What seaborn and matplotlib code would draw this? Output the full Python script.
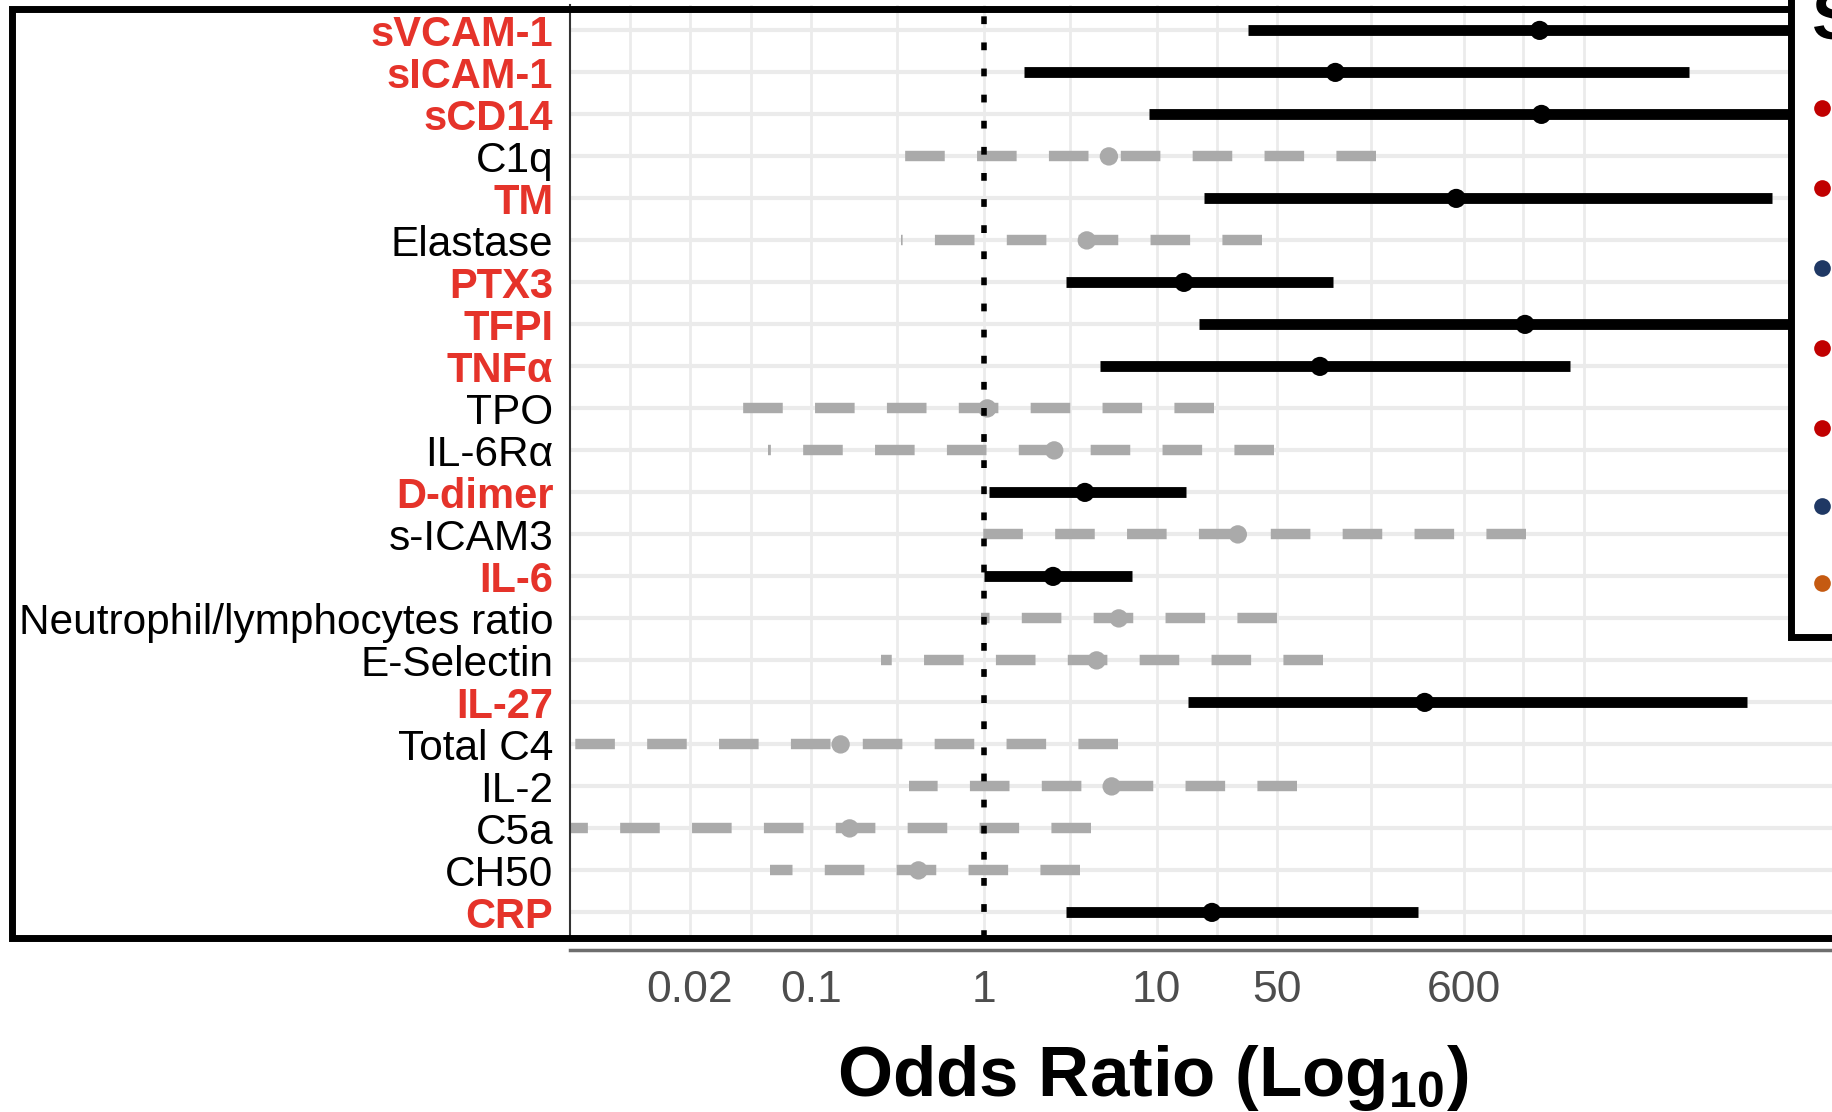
import numpy as np
import pandas as pd
import matplotlib
matplotlib.use("Agg")
import matplotlib.pyplot as plt
import seaborn as sns
from matplotlib.lines import Line2D
from matplotlib.patches import Rectangle
from matplotlib.ticker import NullLocator, FixedLocator

# ---------------- data ----------------
markers = ["sVCAM-1", "sICAM-1", "sCD14", "C1q", "TM", "Elastase", "PTX3", "TFPI",
           "TNFα", "TPO", "IL-6Rα", "D-dimer", "s-ICAM3", "IL-6",
           "Neutrophil/lymphocytes ratio", "E-Selectin", "IL-27", "Total C4",
           "IL-2", "C5a", "CH50", "CRP"]
odds_ratio = [1640, 108, 1680, 5.3, 540, 3.95, 14.4, 1350, 88, 1.05, 2.56, 3.85,
              29.5, 2.52, 6.05, 4.5, 355, 0.149, 5.5, 0.168, 0.42, 20.9]
ci_low = [34, 1.72, 9.1, 0.235, 18.7, 0.335, 2.98, 17.7, 4.7, 0.0375, 0.057, 1.07,
          0.75, 1.0, 0.96, 0.255, 15.2, 0.002, 0.372, 0.002, 0.058, 2.98]
ci_high = [80000, 12000, 300000, 185, 36000, 40.6, 105, 100000, 2450, 21.5, 48,
           14.7, 1360, 7.2, 49.5, 92, 25800, 5.95, 64.5, 4.2, 3.6, 325]
significant = [True, True, True, False, True, False, True, True, True, False,
               False, True, False, True, False, False, True, False, False,
               False, False, True]

tick_values = [0.02, 0.1, 1, 10, 50, 600]
tick_labels = ["0.02", "0.1", "1", "10", "50", "600"]
grid_values = [0.009, 0.02, 0.045, 0.1, 0.316, 1, 3.16, 10, 22.4, 50, 173, 600, 1320, 2950]

legend_colors = ["#c00000", "#c00000", "#1f3864", "#c00000", "#c00000", "#1f3864", "#c55a11"]

df = pd.DataFrame({"marker": markers, "OR": odds_ratio, "lo": ci_low, "hi": ci_high,
                   "sig": significant})
df["row"] = np.arange(len(df))

# ---------------- style ----------------
sns.set_style("white")
plt.rcParams["font.family"] = ["Liberation Sans", "DejaVu Sans"]
plt.rcParams["mathtext.fontset"] = "custom"
plt.rcParams["mathtext.rm"] = "Liberation Sans"
plt.rcParams["mathtext.bf"] = "Liberation Sans:bold"

W, H = 1832, 1112
fig = plt.figure(figsize=(W / 100, H / 100), dpi=100)
fig.patch.set_facecolor("white")

def fx(x):
    return x / W

def fy(y):
    return 1 - y / H

ax_left, ax_top, ax_bottom = 570, 5.2, 937.6
ax = fig.add_axes([fx(ax_left), fy(ax_bottom), 1 - fx(ax_left), (ax_bottom - ax_top) / H])
ax.set_facecolor("white")

ax.set_xscale("log")
ax.set_xlim(0.00406, 80400)
ax.set_ylim(len(df) - 1 + 0.6, -0.6)

# grid
for g in grid_values:
    ax.axvline(g, color="#ebebeb", lw=2.0, zorder=0)
for r in df["row"]:
    ax.axhline(r, color="#ebebeb", lw=3.0, zorder=0)

# confidence interval lines (drawn from upper to lower bound)
for _, d in df.iterrows():
    if d["sig"]:
        ax.plot([d["hi"], d["lo"]], [d["row"], d["row"]], color="black", lw=7.8,
                solid_capstyle="butt", zorder=4)
    else:
        ax.plot([d["hi"], d["lo"]], [d["row"], d["row"]], color="#aaaaaa", lw=7.5,
                dashes=(3.8, 3.1), dash_capstyle="butt", zorder=2)

# reference line at OR = 1
ax.axvline(1, color="black", lw=4, linestyle=(0, (1.4, 3.3)), zorder=3)

# points
sns.scatterplot(data=df[~df["sig"]], x="OR", y="row", color="#aaaaaa", s=175,
                edgecolor="none", ax=ax, zorder=2.5, legend=False)
sns.scatterplot(data=df[df["sig"]], x="OR", y="row", color="black", s=190,
                edgecolor="none", ax=ax, zorder=5, legend=False)

# axes cosmetics
ax.grid(False)
ax.set_xlabel("")
ax.set_ylabel("")
for s in ["top", "right"]:
    ax.spines[s].set_visible(False)
ax.spines["left"].set_color("#333333")
ax.spines["left"].set_linewidth(1.5)
ax.spines["bottom"].set_color("#6e6e6e")
ax.spines["bottom"].set_linewidth(2.5)
ax.spines["bottom"].set_position(("outward", 8.6))

ax.xaxis.set_major_locator(FixedLocator(tick_values))
ax.set_xticklabels(tick_labels)
ax.xaxis.set_minor_locator(NullLocator())
ax.tick_params(axis="x", length=8, width=2, color="#444444", labelsize=32,
               labelcolor="#4d4d4d", pad=7)

ax.set_yticks(df["row"])
ax.set_yticklabels(df["marker"])
ax.tick_params(axis="y", length=7, width=1.8, color="#333333", labelsize=30.5, pad=5)
for lab, sig in zip(ax.get_yticklabels(), df["sig"]):
    if sig:
        lab.set_color("#e5332a")
        lab.set_fontweight("bold")
        lab.set_fontsize(30)
    else:
        lab.set_color("black")

# x label
fig.text(fx(1153), fy(1096), r"Odds Ratio (Log$_{\mathbf{10}}$)", ha="center",
         va="baseline", fontsize=51, fontweight="bold", color="black")

# surrounding black frame
frame = Line2D([fx(1791), fx(12), fx(12), fx(W + 20)], [fy(9), fy(9), fy(938), fy(938)],
               transform=fig.transFigure, color="black", lw=5,
               solid_joinstyle="miter", solid_capstyle="butt", zorder=6)
fig.add_artist(frame)

# legend box (cut off at the right edge, as in the source)
box = Rectangle((fx(1791), fy(637)), 0.2, 0.8, transform=fig.transFigure,
                facecolor="white", edgecolor="black", lw=5, zorder=7)
fig.add_artist(box)
legend_y = [108, 188, 268, 348, 428, 506, 583]
for yy, c in zip(legend_y, legend_colors):
    fig.add_artist(Line2D([fx(1822)], [fy(yy)], transform=fig.transFigure, marker="o",
                          markersize=12, color=c, markeredgewidth=0, zorder=8))
fig.text(fx(1812), fy(40), "S", ha="left", va="baseline", fontsize=50,
         fontweight="bold", color="black", zorder=8)

fig.savefig("out.png", dpi=100)
